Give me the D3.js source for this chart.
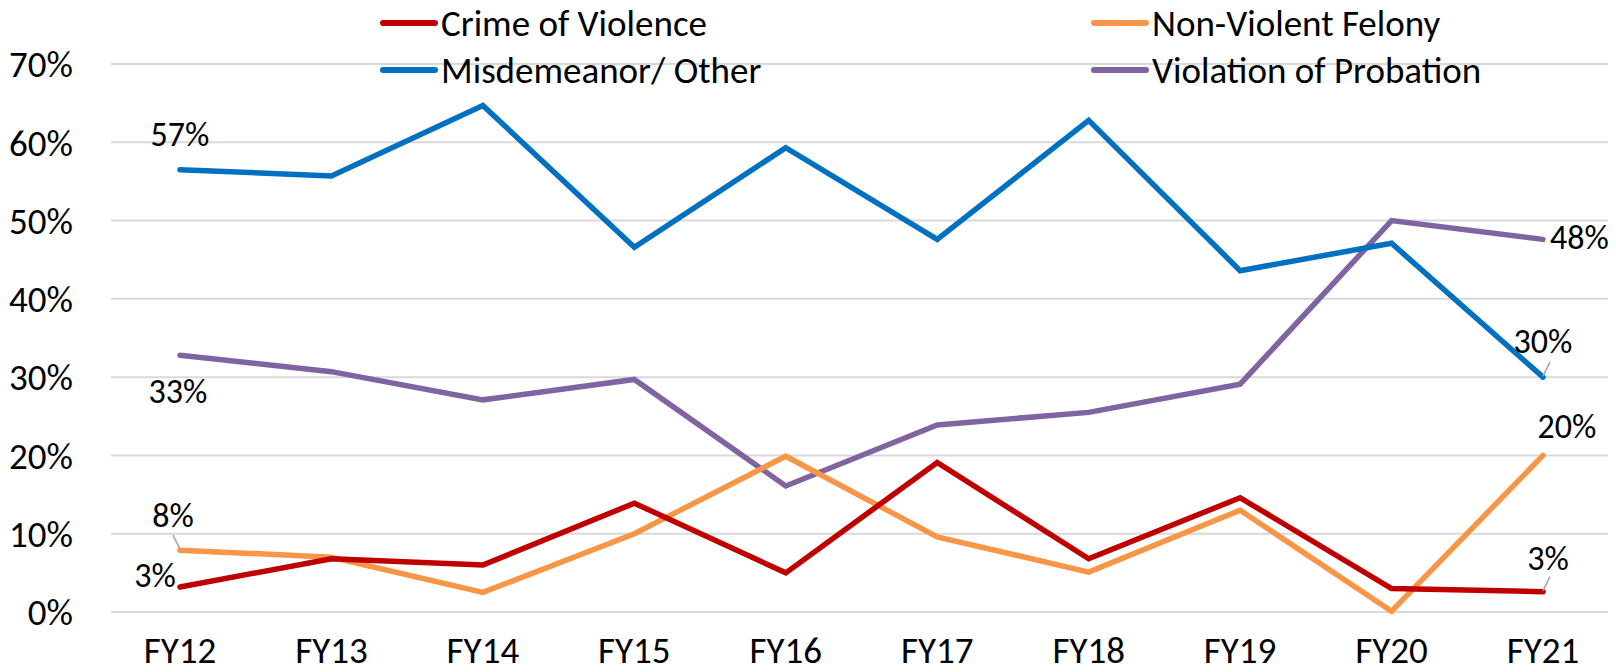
<!DOCTYPE html>
<html>
<head>
<meta charset="utf-8">
<script src="https://cdnjs.cloudflare.com/ajax/libs/d3/7.8.5/d3.min.js"></script>
<style>
  body { margin: 0; background: #fff; }
  #chart { width: 1616px; height: 672px; }
  text { font-family: Carlito, Calibri, "Liberation Sans Narrow", "DejaVu Sans Condensed", sans-serif; fill: #000; }
</style>
</head>
<body>
<div id="chart"></div>
<script>
// categories and series (values in %)
const years = ['FY12', 'FY13', 'FY14', 'FY15', 'FY16', 'FY17', 'FY18', 'FY19', 'FY20', 'FY21'];
const crimeOfViolence = [3.2, 6.8, 6.0, 13.9, 5.0, 19.1, 6.8, 14.6, 3.0, 2.6];
const nonViolentFelony = [7.9, 7.0, 2.5, 10.0, 19.9, 9.6, 5.1, 13.0, 0.1, 20.0];
const misdemeanor = [56.5, 55.7, 64.7, 46.6, 59.3, 47.6, 62.8, 43.6, 47.1, 30.0];
const violationProbation = [32.8, 30.7, 27.1, 29.7, 16.1, 23.9, 25.5, 29.1, 50.0, 47.6];
const yTicks = [0, 10, 20, 30, 40, 50, 60, 70];

const W = 1616, H = 672;
const svg = d3.select('#chart').append('svg')
    .attr('width', W)
    .attr('height', H);

const x = d3.scalePoint()
    .domain(years)
    .range([180, 1543]);

const y = d3.scaleLinear()
    .domain([0, 70])
    .range([612, 64]);

// gridlines
svg.append('g')
    .selectAll('line')
    .data(yTicks)
    .join('line')
    .attr('x1', 111)
    .attr('x2', 1608)
    .attr('y1', d => y(d))
    .attr('y2', d => y(d))
    .attr('stroke', '#d9d9d9')
    .attr('stroke-width', 2);

// y axis labels
svg.append('g')
    .selectAll('text')
    .data(yTicks)
    .join('text')
    .attr('x', 73)
    .attr('y', d => y(d))
    .attr('dy', '0.36em')
    .attr('text-anchor', 'end')
    .style('font-size', '37px')
    .text(d => d + '%');

// x axis labels
svg.append('g')
    .selectAll('text')
    .data(years)
    .join('text')
    .attr('x', d => x(d))
    .attr('y', 663)
    .attr('text-anchor', 'middle')
    .style('font-size', '37px')
    .text(d => d);

const series = [
    { name: 'Crime of Violence', values: crimeOfViolence, color: '#c00000' },
    { name: 'Non-Violent Felony', values: nonViolentFelony, color: '#f79646' },
    { name: 'Misdemeanor/ Other', values: misdemeanor, color: '#0070c0' },
    { name: 'Violation of Probation', values: violationProbation, color: '#8064a2' }
];

const line = d3.line()
    .x((d, i) => x(years[i]))
    .y(d => y(d));

// draw order: purple, blue, orange, red on top
[3, 2, 1, 0].forEach(k => {
    const s = series[k];
    svg.append('path')
        .datum(s.values)
        .attr('d', line)
        .attr('fill', 'none')
        .attr('stroke', s.color)
        .attr('stroke-width', 5.5)
        .attr('stroke-linejoin', 'miter')
        .attr('stroke-linecap', 'round');
});

// legend (two rows, two columns)
const legendPos = [
    { lx: 383, ly: 23 },
    { lx: 1094, ly: 23 },
    { lx: 383, ly: 70 },
    { lx: 1094, ly: 70 }
];
series.forEach((s, i) => {
    const p = legendPos[i];
    svg.append('line')
        .attr('x1', p.lx).attr('x2', p.lx + 52)
        .attr('y1', p.ly).attr('y2', p.ly)
        .attr('stroke', s.color)
        .attr('stroke-width', 6)
        .attr('stroke-linecap', 'round');
    svg.append('text')
        .attr('x', p.lx + 58)
        .attr('y', p.ly)
        .attr('dy', '0.36em')
        .style('font-size', '37px')
        .text(s.name);
});

// data labels
const first = 0, last = years.length - 1;
const labels = [
    { v: misdemeanor[first], i: first, dx: 0, dy: -36, anchor: 'middle' },
    { v: violationProbation[first], i: first, dx: -2, dy: 36, anchor: 'middle' },
    { v: nonViolentFelony[first], i: first, dx: -7, dy: -35, anchor: 'middle', leader: true },
    { v: crimeOfViolence[first], i: first, dx: -25, dy: -12, anchor: 'middle' },
    { v: violationProbation[last], i: last, dx: 7, dy: -3, anchor: 'start' },
    { v: misdemeanor[last], i: last, dx: 0, dy: -36, anchor: 'middle', leader: true },
    { v: nonViolentFelony[last], i: last, dx: 24, dy: -30, anchor: 'middle' },
    { v: crimeOfViolence[last], i: last, dx: 5, dy: -34, anchor: 'middle', leader: true }
];
labels.forEach(l => {
    const px = x(years[l.i]), py = y(l.v);
    if (l.leader) {
        const sx = l.i === first ? -1 : 1;
        svg.append('line')
            .attr('x1', px).attr('y1', py - 1)
            .attr('x2', px + sx * 7).attr('y2', py - 15)
            .attr('stroke', '#a6a6a6')
            .attr('stroke-width', 1.5);
    }
    svg.append('text')
        .attr('x', px + l.dx)
        .attr('y', py + l.dy)
        .attr('dy', '0.36em')
        .attr('text-anchor', l.anchor)
        .style('font-size', '34px')
        .text(Math.round(l.v) + '%');
});
</script>
</body>
</html>
